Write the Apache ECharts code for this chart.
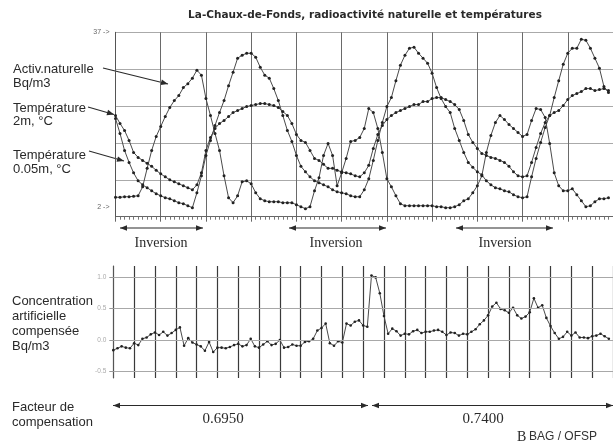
<!DOCTYPE html>
<html><head><meta charset="utf-8">
<script src="https://cdn.jsdelivr.net/npm/echarts@6/dist/echarts.min.js"></script>
<style>html,body{margin:0;padding:0;background:#fff}#c{width:613px;height:444px}</style>
</head><body><div id="c"></div><script>
// Top panel (index = sample number, 10 samples per grid column)
const activity=[3.9,3.9,4.0,4.0,4.1,4.2,6.0,9.7,13.3,16.1,
18.1,20.1,21.9,23.3,24.3,25.9,26.7,27.8,29.4,28.4,
23.7,20.3,16.7,13.3,8.2,3.8,2.8,4.2,7.0,7.2,
6.6,4.8,3.6,3.2,3.0,3.0,3.0,2.8,2.8,2.8,
2.4,2.0,1.6,2.0,5.2,7.8,12.3,14.7,12.3,6.2,
8.8,11.7,15.1,15.3,15.9,17.7,21.7,20.9,17.7,12.9,
7.6,6.0,4.2,2.6,2.2,2.2,2.2,2.2,2.2,2.2,
2.2,2.0,2.0,1.8,1.8,2.0,2.4,3.2,3.6,4.8,
6.2,8.2,12.9,16.3,18.9,20.3,19.5,18.5,17.7,16.9,
16.1,16.5,19.3,21.7,21.5,19.9,14.7,8.8,6.2,5.2,
5.2,5.6,4.4,3.2,2.0,2.2,3.0,3.6,3.6,3.8];
const temp2m=[20.3,18.7,17.3,15.3,12.9,11.9,11.3,10.7,10.1,9.3,
8.6,8.0,7.4,7.0,6.6,6.2,5.8,5.4,6.4,8.8,
13.3,15.9,17.7,18.7,19.3,20.1,20.9,21.3,21.7,22.1,
22.3,22.5,22.7,22.7,22.5,22.3,21.9,21.1,20.3,18.7,
16.5,15.3,14.9,13.3,11.7,11.3,10.5,9.7,9.7,9.3,
9.0,8.8,8.6,8.2,8.0,8.8,10.3,13.7,16.5,18.3,
19.5,20.3,20.9,21.3,21.7,22.1,22.5,22.5,23.1,23.1,
23.7,23.9,23.9,23.5,23.1,22.5,21.5,19.3,16.5,14.9,
13.7,12.7,12.3,11.9,11.7,11.3,10.9,10.1,9.0,8.2,
8.0,8.2,10.9,13.9,16.7,18.9,20.3,20.9,21.3,22.3,
23.5,24.3,24.7,25.1,25.7,25.7,25.3,25.5,25.7,25.3];
const temp005=[19.7,16.7,13.3,10.9,8.8,7.2,6.4,5.8,5.2,4.6,
4.2,3.8,3.6,3.2,2.8,2.6,2.2,1.8,4.8,8.2,
12.3,15.3,18.3,20.9,23.3,26.3,29.0,31.8,32.4,32.8,
32.8,32.0,30.0,28.4,27.8,25.7,23.3,20.3,17.3,15.1,
12.3,10.1,9.0,8.0,7.2,6.8,6.4,6.0,5.4,5.0,
4.8,4.6,4.2,4.0,4.0,5.4,7.6,11.3,15.3,18.9,
22.1,23.9,27.3,30.4,32.4,33.8,34.0,32.8,31.8,30.8,
28.8,25.9,23.7,22.1,20.9,17.7,15.3,12.9,10.9,9.9,
9.0,8.4,7.2,6.4,5.8,5.6,5.2,5.0,4.4,4.0,
3.8,4.0,8.0,11.7,14.9,17.9,20.3,23.9,27.3,30.6,
32.8,33.8,33.8,35.6,35.4,33.8,31.8,29.8,26.1,24.9];
// Bottom panel (5 samples per grid column)
const conc=[-0.16,-0.13,-0.10,-0.12,-0.13,-0.05,-0.08,0.02,0.04,0.09,
0.12,0.08,0.13,0.07,0.11,0.16,0.20,-0.09,0.03,-0.04,
-0.07,-0.10,-0.17,-0.03,-0.19,-0.12,-0.12,-0.13,-0.11,-0.08,
-0.06,-0.10,-0.08,0.02,-0.10,-0.12,-0.07,-0.02,-0.08,-0.06,
0.00,-0.12,-0.11,-0.07,-0.09,-0.09,-0.03,-0.02,0.02,0.15,
0.19,0.26,-0.05,-0.09,-0.02,-0.04,0.26,0.23,0.29,0.31,
0.23,0.21,1.02,0.99,0.74,0.38,0.10,0.18,0.14,0.07,
0.10,0.09,0.14,0.16,0.11,0.13,0.13,0.15,0.16,0.13,
0.08,0.12,0.11,0.07,0.10,0.09,0.13,0.17,0.25,0.31,
0.39,0.53,0.59,0.49,0.47,0.43,0.51,0.39,0.34,0.37,
0.44,0.66,0.51,0.55,0.35,0.22,0.11,0.02,0.05,0.13,
0.07,0.12,0.04,0.04,0.03,0.06,0.07,0.10,0.06,0.02];
const tempAxisLabels=[2,37];
const concAxisLabels=[-0.5,0,0.5,1.0];
const compFactors=['0.6950','0.7400'];
const inversionLabel='Inversion';

const chart=echarts.init(document.getElementById('c'),null,{renderer:'canvas'});
const INK='#2a2a2a';
function head(x,y,ang,len,w){
  const bx=x-Math.cos(ang)*len, by=y-Math.sin(ang)*len;
  const px=-Math.sin(ang)*w, py=Math.cos(ang)*w;
  return {type:'polygon',silent:true,shape:{points:[[x,y],[bx+px,by+py],[bx-px,by-py]]},style:{fill:INK}};
}
function arrow(x1,y1,x2,y2,both,lw){
  const a=Math.atan2(y2-y1,x2-x1);
  const els=[{type:'line',silent:true,shape:{x1:x1,y1:y1,x2:x2,y2:y2},style:{stroke:INK,lineWidth:lw||1.1}},head(x2,y2,a,7,2.8)];
  if(both) els.push(head(x1,y1,a+Math.PI,7,2.8));
  return els;
}
function txt(x,y,text,font,align,color){
  return {type:'text',silent:true,x:x,y:y,style:{text:text,font:font,fill:color||INK,align:align||'left',verticalAlign:'middle'}};
}
const SANS='13px "Liberation Sans", Arial, sans-serif';
const SERIF='14px "Liberation Serif", "Times New Roman", serif';
const graphics=[].concat(
  [txt(365,15,'La-Chaux-de-Fonds, radioactivité naturelle et températures','bold 10.5px "DejaVu Sans", sans-serif','center')],
  [txt(13,69,'Activ.naturelle',SANS),txt(13,83,'Bq/m3',SANS),
   txt(13,108,'Température',SANS),txt(13,121,'2m, °C',SANS),
   txt(13,155,'Température',SANS),txt(13,169,'0.05m, °C',SANS)],
  arrow(103,68,168,84),arrow(88,107,114,114.5),arrow(89,151,124,161),
  arrow(120,228,203,228,true),arrow(289,228,386,228,true),arrow(456,228,553,228,true),
  [txt(161,243,inversionLabel,SERIF,'center'),txt(336,243,inversionLabel,SERIF,'center'),txt(505,243,inversionLabel,SERIF,'center')],
  [txt(12,301,'Concentration',SANS),txt(12,316,'artificielle',SANS),txt(12,331,'compensée',SANS),txt(12,346,'Bq/m3',SANS),
   txt(12,407,'Facteur de',SANS),txt(12,422,'compensation',SANS)],
  arrow(113,405.5,368,405.5,true),arrow(372,405.5,613,405.5,true),
  [txt(223,419,compFactors[0],'15px "Liberation Serif", serif','center'),txt(483,419,compFactors[1],'15px "Liberation Serif", serif','center'),
   txt(517,437,'B','14px "Liberation Serif", serif','left'),txt(529,437,'BAG / OFSP','12px "Liberation Sans", sans-serif','left','#333')]
);
function lineSeries(data,xi,size){
  return {type:'line',xAxisIndex:xi,yAxisIndex:xi,data:data.map((v,i)=>[i,v]),symbol:'circle',symbolSize:size,
    showSymbol:true,itemStyle:{color:'#222'},lineStyle:{color:'#4a4a4a',width:1},animation:false,silent:true};
}
const concSeries=lineSeries(conc,1,2.6);
concSeries.markLine={silent:true,symbol:['none','none'],label:{show:false},animation:false,
  lineStyle:{color:'#a8a8a8',type:'solid',width:1},data:concAxisLabels.map(v=>({yAxis:v}))};
chart.setOption({
  backgroundColor:'#fff',
  animation:false,
  grid:[{left:115.5,top:32.3,width:501,height:184.4},{left:113.3,top:266,width:504,height:112}],
  xAxis:[
    {type:'value',gridIndex:0,min:0,max:110,interval:10,axisLabel:{show:false},
     axisLine:{show:true,lineStyle:{color:'#555',type:'dotted',width:1}},
     axisTick:{show:true,length:5,lineStyle:{color:'#666'}},
     minorTick:{show:true,splitNumber:10,length:3,lineStyle:{color:'#777'}},
     splitLine:{show:true,lineStyle:{color:'#6a6a6a',width:1}}},
    {type:'value',gridIndex:1,min:0,max:120,interval:5,axisLabel:{show:false},axisLine:{show:false},axisTick:{show:false},
     splitLine:{show:true,lineStyle:{color:'#3a3a3a',width:1.2}}}
  ],
  yAxis:[
    {type:'value',gridIndex:0,min:0,max:37,interval:7.4,
     axisLine:{show:true,lineStyle:{color:'#555'}},axisTick:{show:false},
     axisLabel:{show:true,customValues:tempAxisLabels,formatter:v=>v+' ->',fontSize:7,color:'#666',margin:6},
     splitLine:{show:true,lineStyle:{color:['transparent','#aaa','#aaa','#aaa','#aaa','#aaa'],width:1}}},
    {type:'value',gridIndex:1,min:-0.6,max:1.17,
     axisLine:{show:true,lineStyle:{color:'#555'}},
     axisTick:{show:true,customValues:concAxisLabels,length:4,lineStyle:{color:'#999'}},
     axisLabel:{show:true,customValues:concAxisLabels,formatter:v=>v.toFixed(1),fontSize:6.5,color:'#aaa',margin:7},
     splitLine:{show:false}}
  ],
  series:[lineSeries(activity,0,3),lineSeries(temp2m,0,3),lineSeries(temp005,0,3),concSeries],
  graphic:{elements:graphics}
});
</script></body></html>
